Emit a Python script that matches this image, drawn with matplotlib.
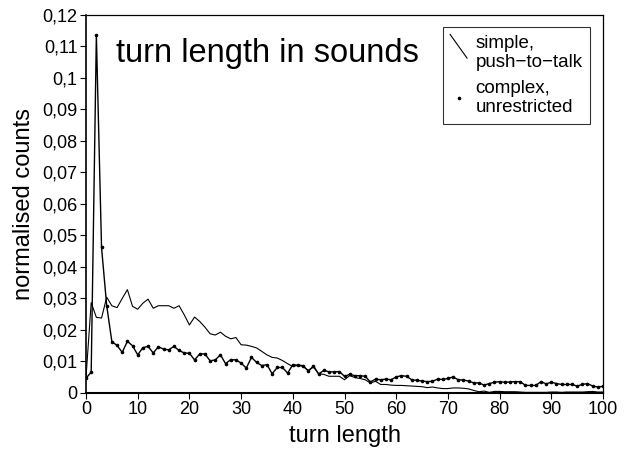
import matplotlib
matplotlib.use("Agg")
import matplotlib.pyplot as plt
from matplotlib.legend_handler import HandlerLine2D
from matplotlib.lines import Line2D
from matplotlib.ticker import FuncFormatter

plt.rcParams['font.family'] = ['Liberation Sans', 'DejaVu Sans']

turn_length = list(range(0, 101))

simple_ptt = [
    0.0050, 0.0287, 0.0240, 0.0238, 0.0304, 0.0277, 0.0271, 0.0300, 0.0328, 0.0275,
    0.0266, 0.0285, 0.0298, 0.0269, 0.0277, 0.0277, 0.0277, 0.0269, 0.0277, 0.0248,
    0.0216, 0.0241, 0.0227, 0.0209, 0.0188, 0.0184, 0.0193, 0.0180, 0.0172, 0.0176,
    0.0153, 0.0152, 0.0148, 0.0143, 0.0132, 0.0121, 0.0113, 0.0111, 0.0103, 0.0093,
    0.0084, 0.0088, 0.0084, 0.0072, 0.0082, 0.0061, 0.0059, 0.0053, 0.0053, 0.0053,
    0.0042, 0.0055, 0.0049, 0.0046, 0.0042, 0.0032, 0.0037, 0.0027, 0.0027, 0.0025,
    0.0024, 0.0024, 0.0023, 0.0022, 0.0021, 0.0020, 0.0017, 0.0019, 0.0016, 0.0014,
    0.0014, 0.0016, 0.0016, 0.0015, 0.0013, 0.0008, 0.0004, 0.0006, 0.0002, 0.0005,
    0.0005, 0.0004, 0.0004, 0.0004, 0.0003, 0.0002, 0.0002, 0.0002, 0.0002, 0.0002,
    0.0003, 0.0003, 0.0002, 0.0003, 0.0003, 0.0003, 0.0003, 0.0004, 0.0005, 0.0003,
    0.0003,
]

complex_unres = [
    0.0047, 0.0066, 0.1135, 0.0462, 0.0277, 0.0163, 0.0151, 0.0129, 0.0164, 0.0150,
    0.0121, 0.0144, 0.0148, 0.0127, 0.0147, 0.0139, 0.0137, 0.0148, 0.0135, 0.0127,
    0.0126, 0.0105, 0.0124, 0.0124, 0.0102, 0.0105, 0.0121, 0.0093, 0.0106, 0.0105,
    0.0095, 0.0079, 0.0113, 0.0097, 0.0087, 0.0090, 0.0061, 0.0081, 0.0081, 0.0063,
    0.0090, 0.0088, 0.0087, 0.0069, 0.0086, 0.0060, 0.0072, 0.0067, 0.0067, 0.0068,
    0.0053, 0.0059, 0.0055, 0.0055, 0.0053, 0.0035, 0.0044, 0.0042, 0.0044, 0.0042,
    0.0051, 0.0055, 0.0053, 0.0042, 0.0040, 0.0038, 0.0036, 0.0037, 0.0044, 0.0043,
    0.0046, 0.0051, 0.0042, 0.0041, 0.0038, 0.0032, 0.0032, 0.0025, 0.0030, 0.0034,
    0.0036, 0.0034, 0.0035, 0.0036, 0.0036, 0.0024, 0.0024, 0.0024, 0.0036, 0.0029,
    0.0034, 0.0030, 0.0027, 0.0027, 0.0027, 0.0022, 0.0027, 0.0030, 0.0022, 0.0019,
    0.0021,
]

labels = ["simple,\npush\u2212to\u2212talk", "complex,\nunrestricted"]
title_text = "turn length in sounds"
x_ticks = [0, 10, 20, 30, 40, 50, 60, 70, 80, 90, 100]
y_ticks = [0, 0.01, 0.02, 0.03, 0.04, 0.05, 0.06, 0.07, 0.08, 0.09, 0.10, 0.11, 0.12]


class DiagonalHandler(HandlerLine2D):
    def create_artists(self, legend, orig_handle, xdescent, ydescent,
                       width, height, fontsize, trans):
        line = Line2D([width * 0.0, width * 1.0],
                      [height * 1.9, height * 0.1],
                      color='black', lw=0.8)
        line.set_transform(trans)
        return [line]


fig = plt.figure(figsize=(6.33, 4.54), dpi=100)
ax = fig.add_axes([0.1359, 0.1344, 0.9526 - 0.1359, 0.967 - 0.1344])

l1, = ax.plot(turn_length, simple_ptt, color='black', lw=0.8)
l2, = ax.plot(turn_length, complex_unres, color='black', lw=1.0,
              marker='o', ms=1.6, mfc='black', mec='black')

ax.set_xlim(0, 100)
ax.set_ylim(0, 0.12)
ax.set_xticks(x_ticks)
ax.set_yticks(y_ticks)


def yfmt(v, pos):
    s = ('%.2f' % v).rstrip('0').rstrip('.')
    return s.replace('.', ',')


ax.yaxis.set_major_formatter(FuncFormatter(yfmt))
ax.tick_params(axis='both', direction='out', length=4, width=0.8,
               labelsize=13, pad=2)
for sp in ax.spines.values():
    sp.set_linewidth(0.9)
ax.spines['bottom'].set_linewidth(1.5)
ax.spines['left'].set_linewidth(1.2)

ax.set_xlabel("turn length", fontsize=17, labelpad=5)
ax.set_ylabel("normalised counts", fontsize=17, labelpad=5)

ax.text(0.058, 0.876, title_text, transform=ax.transAxes, fontsize=23.5,
        ha='left', va='baseline')

leg_dot = Line2D([], [], color='none', marker='o', ms=1.6,
                 mfc='black', mec='black')
leg = ax.legend([l1, leg_dot], labels, loc='upper right',
                bbox_to_anchor=(0.975, 0.968), borderaxespad=0,
                fontsize=13.5, frameon=True, fancybox=False,
                handlelength=0.9, handletextpad=0.45, labelspacing=0.45,
                borderpad=0.4, handler_map={l1: DiagonalHandler()})
leg.get_frame().set_edgecolor('black')
leg.get_frame().set_linewidth(0.8)

fig.savefig("out.png", dpi=100)
